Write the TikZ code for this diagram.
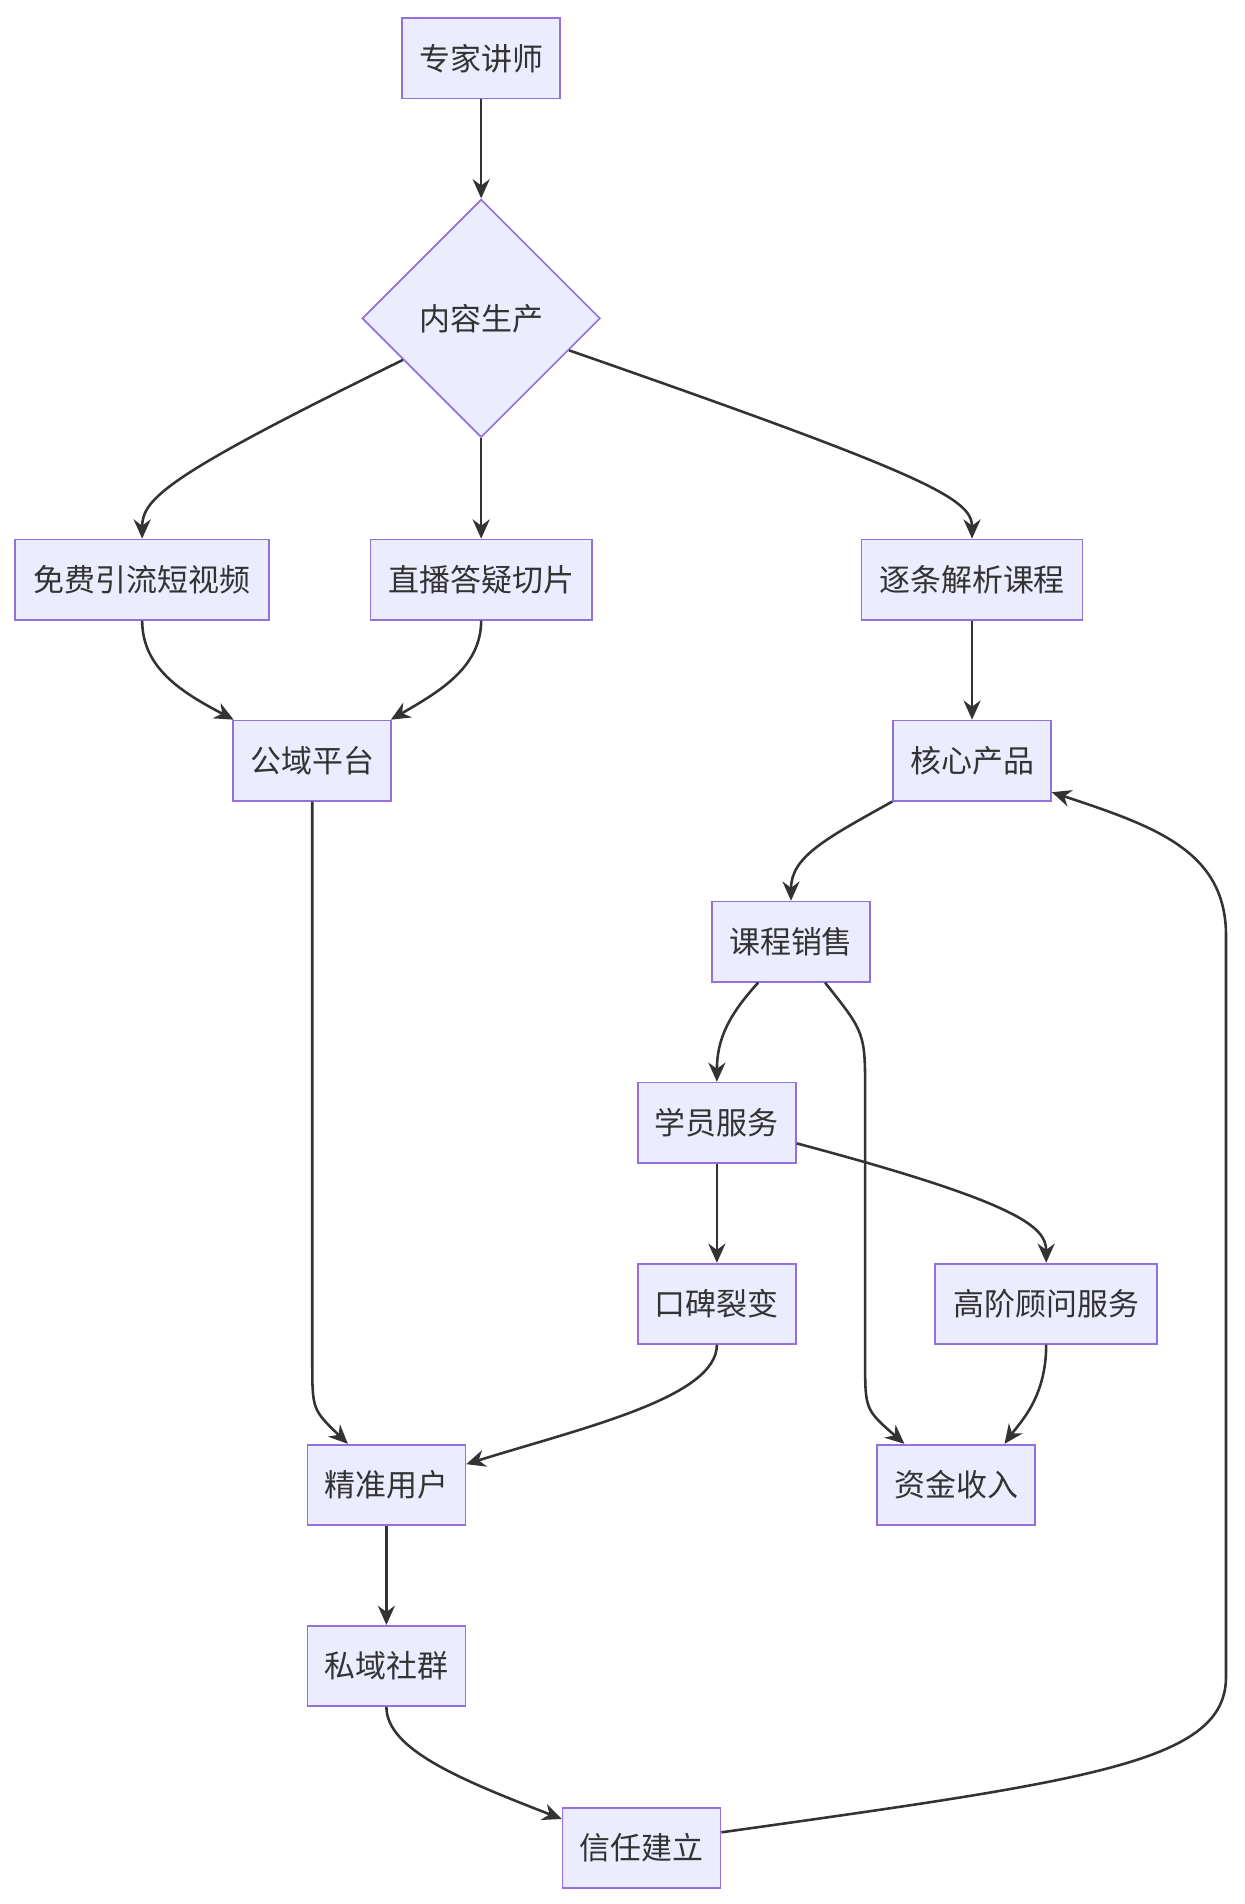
\documentclass[tikz,border=0pt]{standalone}
\usepackage{fontspec}
\newfontfamily\cjk{Noto Sans CJK SC}
\usetikzlibrary{shapes.geometric,arrows.meta,calc}
\definecolor{boxfill}{HTML}{ECECFF}
\definecolor{boxline}{HTML}{9370DB}
\definecolor{wire}{HTML}{333333}
\tikzset{
  block/.style={rectangle, draw=boxline, fill=boxfill, line width=0.8pt,
    minimum width=2.6cm, minimum height=1.32cm, inner sep=0pt, text=wire,
    font=\cjk\fontsize{14.5}{16}\selectfont},
  choice/.style={diamond, draw=boxline, fill=boxfill, line width=0.8pt,
    minimum width=3.92cm, minimum height=3.92cm, inner sep=0pt, text=wire,
    font=\cjk\fontsize{14.5}{16}\selectfont},
  link/.style={draw=wire, line width=1.2pt, -{Stealth[length=9pt,width=8pt]}}
}
\begin{document}
\begin{tikzpicture}[x=0.02cm, y=-0.02cm]
	\useasboundingbox (0,0) rectangle (1024,1567);
	% Place nodes
	\node [block] at (396,48) (expert) {专家讲师};
	\node [choice] at (396,262) (content) {内容生产};
	\node [block, minimum width=4.18cm] at (117,477) (shortvid) {免费引流短视频};
	\node [block, minimum width=3.64cm] at (396,477) (clips) {直播答疑切片};
	\node [block, minimum width=3.64cm] at (800,477) (course) {逐条解析课程};
	\node [block] at (257,626) (public) {公域平台};
	\node [block] at (800,626) (core) {核心产品};
	\node [block] at (651,775) (sales) {课程销售};
	\node [block] at (590,924) (service) {学员服务};
	\node [block] at (590,1073) (wom) {口碑裂变};
	\node [block, minimum width=3.66cm] at (861,1073) (advisor) {高阶顾问服务};
	\node [block] at (318,1222) (users) {精准用户};
	\node [block] at (787,1222) (income) {资金收入};
	\node [block] at (318,1371) (private) {私域社群};
	\node [block] at (528,1521) (trust) {信任建立};

	\draw[link] (expert) -- (content);
	\draw[link] (content.208) .. controls (140,390) and (117,410) .. (shortvid.north);
	\draw[link] (content.south) -- (clips.north);
	\draw[link] (content.340) .. controls (760,390) and (800,410) .. (course.north);

	\draw[link] (shortvid.south) .. controls (117,550) and (150,570) .. ($(public.north west)+(1,0)$);
	\draw[link] (clips.south) .. controls (396,550) and (360,570) .. ($(public.north east)+(-1,0)$);
	\draw[link] (course) -- (core);

	\draw[link] (core.south west) .. controls (680,690) and (651,705) .. (sales.north);
	\draw[link] ($(sales.south)+(-27,0)$) .. controls (600,835) and (590,855) .. (service.north);
	\draw[link] ($(sales.south)+(28,0)$) .. controls (712,850) .. (712,900) -- (712,1120)
		.. controls (712,1160) .. ($(income.north west)+(23,0)$);
	\draw[link] (service) -- (wom);
	\draw[link] ($(service.east)+(0,17)$) .. controls (840,990) and (861,1010) .. (advisor.north);
	\draw[link] (advisor.south) .. controls (861,1150) and (840,1170) .. ($(income.north east)+(-26,0)$);

	\draw[link] (public.south) -- (257,1120) .. controls (257,1160) .. ($(users.north west)+(34,0)$);
	\draw[link] (wom.south) .. controls (590,1150) and (480,1175) .. ($(users.east)+(0,-17)$);
	\draw[link] (users) -- (private);
	\draw[link] (private.south) .. controls (318,1440) and (380,1465) .. ($(trust.west)+(0,-24)$);
	\draw[link] ($(trust.east)+(0,-13)$) .. controls (900,1465) and (1009,1450) .. (1009,1380)
		-- (1009,770) .. controls (1009,700) and (950,680) .. ($(core.east)+(0,26)$);
\end{tikzpicture}
\end{document}
